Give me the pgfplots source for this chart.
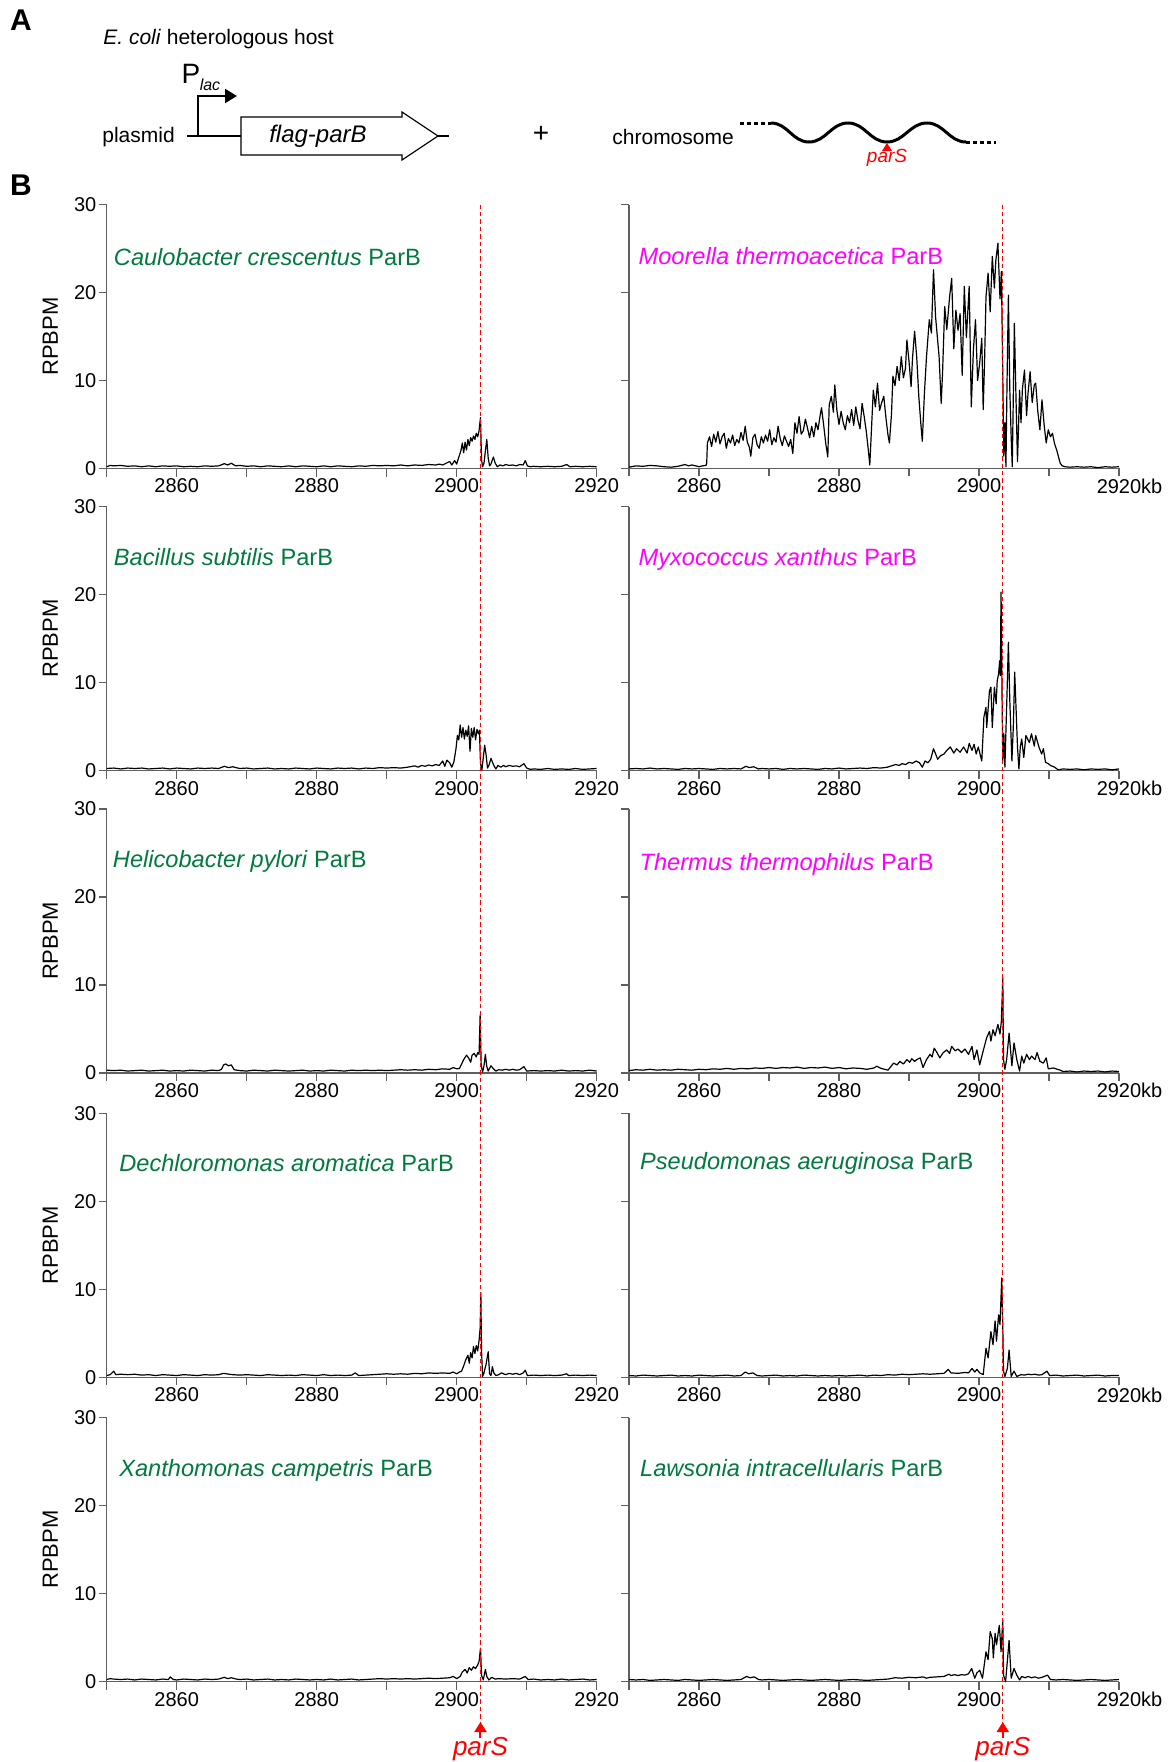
\documentclass[border=0pt]{standalone}
\usepackage{fontspec}
\setmainfont{Liberation Sans}
\usepackage{pgfplots}
\pgfplotsset{compat=1.18}
\usetikzlibrary{arrows.meta}

\definecolor{pgreen}{RGB}{0,122,61}
\definecolor{pmag}{RGB}{255,0,255}
\definecolor{axgray}{RGB}{95,95,95}

\pgfplotsset{
  trace/.style={black, line width=0.6pt, line join=round, mark=none},
  panel/.style={
    anchor=north west, scale only axis, width=245pt, height=132pt,
    xmin=2850, xmax=2920, ymin=0, ymax=30,
    axis lines*=left,
    axis line style={axgray, line width=0.7pt},
    tick style={axgray, line width=0.7pt},
    tick align=outside, major tick length=4pt,
    xtick={2850,2860,...,2920},
    ytick={0,10,20,30},
    ticklabel style={font=\fontsize{10}{12}\selectfont, inner sep=1pt},
    clip=false,
  },
  leftpanel/.style={panel,
    xticklabels={{},2860,{},2880,{},2900,{},2920},
    yticklabels={0,10,20,30},
    ylabel={RPBPM},
    ylabel style={font=\fontsize{11}{13}\selectfont, at={(axis description cs:-0.115,0.5)}, anchor=center}},
  rightpanel/.style={panel,
    xticklabels={{},2860,{},2880,{},2900,{},2920\rlap{kb}},
    yticklabels={}},
}
% panel title: colour, x, y, text
\newcommand{\ptitle}[4]{\node[anchor=west, inner sep=0pt, text=#1, font=\fontsize{11.8}{14}\selectfont] at (axis description cs:#2,#3) {#4};}

\begin{document}
\begin{tikzpicture}
\path[use as bounding box] (0pt,0pt) rectangle (587pt,-881pt);

% ---------- panel A (pixel units) ----------
\begin{scope}[x=0.5pt,y=-0.5pt]
\node[font=\bfseries\fontsize{15}{18}\selectfont] at (21,20) {A};
\node[font=\bfseries\fontsize{15}{18}\selectfont] at (21,185) {B};
\node[anchor=west, inner sep=0pt, font=\fontsize{10.5}{12}\selectfont] at (103,39) {\textit{E. coli} heterologous host};
\node[anchor=west, inner sep=0pt, font=\fontsize{10.5}{12}\selectfont] at (102,137) {plasmid};
\draw[line width=1.3pt] (187,136) -- (241,136);
\draw[line width=1.1pt, -{Triangle[width=7pt,length=6pt]}] (198,136) -- (198,96) -- (237,96);
\node[font=\fontsize{14}{16}\selectfont] at (191,74) {P};
\node[font=\itshape\fontsize{8}{9}\selectfont] at (210,85) {lac};
\draw[line width=0.6pt, fill=white] (241,117) -- (402,117) -- (402,112) -- (438,136) -- (402,160) -- (402,155) -- (241,155) -- cycle;
\draw[line width=1.3pt] (438,136) -- (449,136);
\node[font=\itshape\fontsize{12}{14}\selectfont] at (318,136) {flag-parB};
\node[font=\fontsize{14}{16}\selectfont] at (541,134) {+};
\node[anchor=west, inner sep=0pt, font=\fontsize{10.5}{12}\selectfont] at (612,137) {chromosome};
\draw[line width=1.5pt, dash pattern=on 2pt off 1.5pt] (740,123) -- (771,123);
\draw[line width=1.5pt] (771,123) to[out=0,in=180] (809,142) to[out=0,in=180] (848,123)
  to[out=0,in=180] (887,142) to[out=0,in=180] (927,123) to[out=0,in=180] (966,142);
\draw[line width=1.5pt, dash pattern=on 2pt off 1.5pt] (966,142) -- (996,142);
\fill[red] (887,143) -- (882,151) -- (892,151) -- cycle;
\node[text=red, font=\itshape\fontsize{9.5}{11}\selectfont] at (887,158) {parS};
\end{scope}

% ---------- row 1 ----------
\begin{axis}[leftpanel, at={(53.35pt,-102.25pt)}]
\addplot[trace] coordinates {(2850,0.2)(2850.5,0.35)(2851,0.3)(2852,0.35)(2853,0.25)(2854,0.3)(2855,0.2)(2856,0.3)(2857,0.2)(2858,0.3)(2859,0.25)(2860,0.3)(2861,0.2)(2862,0.25)(2863,0.2)(2864,0.3)(2865,0.25)(2866,0.3)(2866.8,0.55)(2867.3,0.4)(2867.8,0.6)(2868.4,0.3)(2869,0.35)(2870,0.25)(2871,0.3)(2872,0.2)(2873,0.3)(2874,0.25)(2875,0.2)(2876,0.3)(2877,0.2)(2878,0.3)(2879,0.25)(2880,0.2)(2881,0.3)(2882,0.2)(2883,0.3)(2884,0.25)(2885,0.2)(2886,0.3)(2887,0.25)(2888,0.35)(2889,0.3)(2890,0.35)(2891,0.3)(2892,0.4)(2893,0.3)(2894,0.4)(2895,0.35)(2896,0.45)(2897,0.4)(2897.5,0.5)(2898,0.4)(2898.5,0.6)(2899,0.8)(2899.3,0.4)(2899.7,0.9)(2900,0.5)(2900.3,1.3)(2900.6,2.0)(2900.8,2.9)(2901,1.8)(2901.2,3.0)(2901.4,2.1)(2901.6,3.3)(2901.8,2.6)(2902,3.5)(2902.2,3.1)(2902.4,3.7)(2902.6,3.3)(2902.8,4.0)(2903,3.6)(2903.2,4.3)(2903.4,5.8)(2903.55,1.0)(2903.7,0.2)(2903.9,0.6)(2904.1,2.0)(2904.3,3.3)(2904.5,1.2)(2904.7,0.3)(2904.9,0.5)(2905.1,1.0)(2905.25,1.3)(2905.5,0.6)(2905.8,0.2)(2906.2,0.4)(2906.6,0.3)(2907,0.45)(2907.5,0.35)(2908,0.4)(2908.5,0.3)(2909,0.45)(2909.5,0.4)(2909.8,0.9)(2910.1,0.3)(2910.5,0.2)(2911,0.25)(2912,0.2)(2913,0.25)(2914,0.2)(2915,0.25)(2915.7,0.45)(2916.2,0.2)(2917,0.25)(2918,0.2)(2919,0.25)(2920,0.2)};
\ptitle{pgreen}{0.014}{0.80}{\textit{Caulobacter crescentus} ParB}
\coordinate (tL) at (axis cs:2903.4,30);
\end{axis}

\begin{axis}[rightpanel, at={(314.5pt,-102.25pt)}]
\addplot[trace] coordinates {(2850,0.15)(2851,0.3)(2852,0.25)(2853,0.35)(2854,0.3)(2855,0.2)(2856,0.15)(2857,0.25)(2858,0.45)(2858.5,0.3)(2859,0.4)(2860,0.2)(2860.5,0.3)(2861,0.35)(2861.1,0.6)
(2861.2,2.9)(2861.5,3.6)(2861.8,2.5)(2862.1,3.9)(2862.4,3.0)(2862.7,4.2)(2863.0,2.8)(2863.3,3.6)(2863.6,4.0)(2863.9,2.3)(2864.2,3.4)(2864.5,2.9)(2864.8,3.8)(2865.1,2.6)(2865.4,3.3)(2865.7,2.9)(2866.0,4.1)(2866.3,3.2)(2866.6,4.8)(2866.9,3.0)(2867.2,2.4)(2867.4,1.4)(2867.7,3.5)(2868.0,3.9)(2868.3,2.7)(2868.6,2.3)(2868.9,3.6)(2869.2,2.9)(2869.5,3.8)(2869.8,3.1)(2870.1,4.4)(2870.4,2.7)(2870.7,3.5)(2871.0,3.0)(2871.3,4.8)(2871.6,3.4)(2871.9,2.6)(2872.2,3.7)(2872.5,3.1)(2872.8,2.5)(2873.1,3.3)(2873.4,1.7)(2873.7,5.2)(2874.0,4.0)(2874.3,5.9)(2874.6,3.9)(2874.9,4.3)(2875.2,5.6)(2875.5,4.6)(2875.8,3.5)(2876.1,4.8)(2876.4,3.6)(2876.7,5.2)(2877.0,4.4)(2877.3,6.0)(2877.5,6.9)(2877.8,5.0)(2878.1,2.9)(2878.4,1.3)(2878.6,7.2)(2878.9,8.2)(2879.2,6.4)(2879.4,9.5)(2879.7,6.6)(2880.0,5.0)(2880.3,6.5)(2880.6,5.2)(2880.9,4.4)(2881.2,6.0)(2881.5,5.2)(2881.8,6.7)(2882.1,4.9)(2882.4,7.0)(2882.7,5.5)(2883.0,4.5)(2883.3,7.4)(2883.6,5.9)(2883.9,4.2)(2884.2,2.0)(2884.4,0.4)(2884.6,3.8)(2884.9,8.9)(2885.2,7.0)(2885.5,9.7)(2885.8,6.6)(2886.1,7.5)(2886.4,8.2)(2886.7,5.8)(2887.0,3.8)(2887.2,2.9)(2887.5,6.2)(2887.7,10.5)(2888.0,9.4)(2888.3,11.6)(2888.6,10.0)(2888.9,12.7)(2889.2,10.3)(2889.5,11.4)(2889.7,14.6)(2890.0,12.2)(2890.3,9.3)(2890.5,12.5)(2890.8,15.6)(2891.1,12.7)(2891.4,8.2)(2891.7,5.0)(2891.9,3.1)(2892.2,8.5)(2892.5,12.7)(2892.9,16.9)(2893.2,15.4)(2893.5,22.6)(2893.8,17.2)(2894.1,14.5)(2894.3,12.7)(2894.6,7.4)(2894.8,11.0)(2895.1,18.4)(2895.4,15.8)(2895.8,19.5)(2896.1,21.6)(2896.4,13.6)(2896.7,18.0)(2897.0,15.7)(2897.3,17.6)(2897.6,10.6)(2897.9,20.7)(2898.2,14.9)(2898.6,20.7)(2898.9,7.0)(2899.2,13.5)(2899.5,16.9)(2899.8,10.0)(2900.1,12.0)(2900.4,14.8)(2900.6,6.7)(2900.8,12.3)(2901.0,19.5)(2901.3,22.2)(2901.6,17.8)(2901.9,24.1)(2902.2,20.5)(2902.4,23.6)(2902.7,25.6)(2903.0,19.3)(2903.2,22.4)(2903.4,10.5)(2903.55,1.4)(2903.7,5.2)(2903.85,0.2)(2904.0,9.5)(2904.2,19.7)(2904.4,9.0)(2904.6,3.5)(2904.75,0.2)(2904.9,8.0)(2905.05,16.5)(2905.3,7.5)(2905.5,0.8)(2905.8,8.9)(2906.0,5.2)(2906.2,9.0)(2906.5,11.2)(2906.8,6.0)(2907.0,8.5)(2907.3,11.0)(2907.6,7.5)(2907.9,9.5)(2908.1,9.7)(2908.4,6.5)(2908.7,4.4)(2909.0,7.8)(2909.3,5.0)(2909.6,2.9)(2909.9,4.4)(2910.2,3.6)(2910.5,4.0)(2910.8,2.8)(2911.1,2.1)(2911.4,1.2)(2911.6,0.6)(2911.9,0.3)(2912.3,0.2)(2913,0.15)(2914,0.2)(2915,0.15)(2916,0.2)(2917,0.1)(2918,0.2)(2919,0.15)(2920,0.2)};
\ptitle{pmag}{0.019}{0.805}{\textit{Moorella thermoacetica} ParB}
\coordinate (tR) at (axis cs:2903.4,30);
\end{axis}

% ---------- row 2 ----------
\begin{axis}[leftpanel, at={(53.35pt,-253.35pt)}]
\addplot[trace] coordinates {(2850,0.25)(2851,0.3)(2852,0.2)(2853,0.3)(2854,0.25)(2855,0.3)(2856,0.2)(2857,0.25)(2858,0.3)(2859,0.2)(2860,0.3)(2861,0.25)(2862,0.2)(2863,0.3)(2864,0.25)(2865,0.3)(2866,0.25)(2866.8,0.5)(2867.4,0.35)(2868,0.45)(2869,0.25)(2870,0.3)(2871,0.2)(2872,0.25)(2873,0.3)(2874,0.2)(2875,0.25)(2876,0.2)(2877,0.3)(2878,0.25)(2879,0.2)(2880,0.3)(2881,0.25)(2882,0.2)(2883,0.3)(2884,0.25)(2885,0.3)(2886,0.2)(2887,0.3)(2888,0.25)(2889,0.35)(2890,0.3)(2891,0.35)(2892,0.3)(2893,0.4)(2894,0.55)(2894.5,0.4)(2895,0.6)(2895.5,0.5)(2896,0.65)(2896.5,0.55)(2897,0.7)(2897.5,0.6)(2898,1.1)(2898.3,0.5)(2898.6,1.2)(2899,0.9)(2899.3,0.4)(2899.6,1.0)(2899.9,2.5)(2900.1,4.0)(2900.3,3.5)(2900.5,5.2)(2900.7,3.8)(2900.9,4.9)(2901.1,3.6)(2901.3,4.6)(2901.5,3.9)(2901.7,5.1)(2901.9,2.2)(2902.1,4.8)(2902.3,3.8)(2902.5,4.9)(2902.7,3.5)(2902.9,4.7)(2903.1,4.2)(2903.25,4.6)(2903.4,0.8)(2903.6,0.1)(2903.8,1.5)(2904.0,2.9)(2904.2,1.8)(2904.4,0.3)(2904.6,0.6)(2904.9,1.4)(2905.1,1.0)(2905.3,0.6)(2905.6,0.2)(2905.9,0.6)(2906.3,0.4)(2906.7,0.6)(2907,0.45)(2907.5,0.6)(2908,0.5)(2908.5,0.55)(2909,0.45)(2909.6,0.8)(2910,0.3)(2910.5,0.15)(2911,0.2)(2912,0.15)(2913,0.25)(2914,0.15)(2915,0.2)(2916,0.15)(2917,0.25)(2918,0.15)(2919,0.2)(2920,0.25)};
\ptitle{pgreen}{0.014}{0.81}{\textit{Bacillus subtilis} ParB}
\end{axis}

\begin{axis}[rightpanel, at={(314.5pt,-253.35pt)}]
\addplot[trace] coordinates {(2850,0.2)(2851,0.25)(2852,0.2)(2853,0.3)(2854,0.2)(2855,0.25)(2856,0.2)(2857,0.15)(2858,0.25)(2859,0.2)(2860,0.25)(2861,0.2)(2862,0.15)(2863,0.25)(2864,0.2)(2865,0.25)(2866,0.2)(2866.7,0.5)(2867.2,0.35)(2867.8,0.45)(2868.5,0.2)(2869,0.25)(2870,0.2)(2871,0.25)(2872,0.15)(2873,0.25)(2874,0.2)(2875,0.25)(2876,0.2)(2877,0.15)(2878,0.25)(2879,0.2)(2880,0.3)(2881,0.2)(2882,0.25)(2883,0.3)(2884,0.25)(2885,0.35)(2886,0.3)(2886.9,0.4)(2887.5,0.55)(2888.1,0.7)(2888.6,0.6)(2889,0.8)(2889.5,0.7)(2890,0.95)(2890.5,0.85)(2891,1.1)(2891.5,0.9)(2891.9,0.4)(2892.3,1.1)(2892.7,0.9)(2893.1,1.3)(2893.5,2.5)(2893.8,1.9)(2894.1,1.3)(2894.5,1.7)(2895,1.9)(2895.4,2.3)(2895.9,2.7)(2896.4,2.0)(2896.8,2.5)(2897.3,2.1)(2897.8,2.7)(2898.3,2.0)(2898.6,3.1)(2899,2.3)(2899.3,3.0)(2899.6,1.9)(2899.9,2.7)(2900.4,1.1)(2900.7,6.1)(2901,7.2)(2901.1,4.9)(2901.5,9.1)(2901.7,9.5)(2901.9,4.9)(2902.2,9.5)(2902.45,7.6)(2902.6,10.2)(2902.8,11.0)(2902.95,12.5)(2903.05,10.8)(2903.15,20.3)(2903.3,8.0)(2903.4,1.1)(2903.55,4.2)(2903.7,0.4)(2904.0,8.7)(2904.2,14.6)(2904.4,8.0)(2904.7,1.1)(2904.9,4.9)(2905.1,11.2)(2905.25,8.0)(2905.5,2.7)(2905.7,0.2)(2905.9,2.7)(2906.1,3.6)(2906.4,1.5)(2906.7,4.0)(2907.2,3.2)(2907.5,4.2)(2907.9,2.8)(2908.1,4.0)(2908.6,2.6)(2908.95,1.9)(2909.2,2.5)(2909.5,0.95)(2909.9,0.8)(2910.2,0.6)(2910.8,0.4)(2911.3,0.1)(2912,0.2)(2913,0.15)(2914,0.2)(2915,0.1)(2916,0.2)(2917,0.15)(2918,0.2)(2919,0.1)(2920,0.2)};
\ptitle{pmag}{0.019}{0.80}{\textit{Myxococcus xanthus} ParB}
\end{axis}

% ---------- row 3 ----------
\begin{axis}[leftpanel, at={(53.35pt,-404.4pt)}]
\addplot[trace] coordinates {(2850,0.3)(2851,0.25)(2852,0.3)(2853,0.2)(2854,0.25)(2855,0.3)(2856,0.2)(2857,0.25)(2858,0.3)(2859,0.2)(2860,0.25)(2861,0.2)(2862,0.3)(2863,0.25)(2864,0.2)(2865,0.3)(2866,0.25)(2866.4,0.4)(2866.7,0.9)(2867,1.0)(2867.4,0.8)(2867.8,0.9)(2868.2,0.35)(2869,0.25)(2870,0.2)(2871,0.3)(2872,0.25)(2873,0.2)(2874,0.3)(2875,0.25)(2876,0.2)(2877,0.25)(2878,0.3)(2879,0.2)(2880,0.25)(2881,0.2)(2882,0.3)(2883,0.25)(2884,0.2)(2885,0.3)(2886,0.25)(2887,0.3)(2888,0.25)(2889,0.3)(2890,0.25)(2891,0.3)(2892,0.35)(2893,0.3)(2894,0.35)(2895,0.3)(2896,0.4)(2897,0.35)(2898,0.45)(2899,0.4)(2899.5,0.6)(2900,0.45)(2900.4,0.5)(2900.7,1.0)(2901,1.5)(2901.4,2.0)(2901.7,1.7)(2902,1.2)(2902.2,2.0)(2902.5,2.2)(2902.8,1.8)(2903,2.3)(2903.2,2.1)(2903.35,6.6)(2903.5,0.8)(2903.7,0.1)(2903.9,0.8)(2904.1,2.1)(2904.3,0.7)(2904.5,0.2)(2904.9,0.8)(2905.2,0.5)(2905.6,0.2)(2906,0.35)(2906.5,0.3)(2907,0.4)(2907.5,0.3)(2908,0.4)(2908.5,0.3)(2909,0.35)(2909.6,0.7)(2910,0.2)(2911,0.25)(2912,0.2)(2913,0.25)(2914,0.2)(2915,0.3)(2916,0.2)(2917,0.25)(2918,0.2)(2919,0.3)(2920,0.2)};
\ptitle{pgreen}{0.012}{0.80}{\textit{Helicobacter pylori} ParB}
\end{axis}

\begin{axis}[rightpanel, at={(314.5pt,-404.4pt)}]
\addplot[trace] coordinates {(2850,0.25)(2851,0.35)(2852,0.3)(2853,0.4)(2854,0.3)(2855,0.35)(2856,0.3)(2857,0.4)(2858,0.35)(2859,0.3)(2860,0.4)(2861,0.35)(2862,0.45)(2863,0.4)(2864,0.5)(2865,0.4)(2866,0.5)(2867,0.45)(2868,0.55)(2869,0.5)(2870,0.6)(2871,0.5)(2872,0.6)(2873,0.55)(2874,0.65)(2875,0.5)(2876,0.6)(2877,0.55)(2878,0.65)(2879,0.5)(2880,0.6)(2881,0.45)(2882,0.55)(2883,0.5)(2884,0.4)(2885,0.55)(2885.4,0.75)(2886,0.5)(2887,0.3)(2887.8,1.1)(2888.3,0.9)(2888.7,1.3)(2889.2,1.0)(2889.7,1.5)(2890.1,1.2)(2890.4,1.6)(2890.8,1.3)(2891.1,1.5)(2891.6,1.7)(2892,0.6)(2892.5,1.5)(2893,2.1)(2893.3,1.8)(2893.6,2.8)(2894,2.3)(2894.4,1.7)(2894.9,2.3)(2895.4,2.6)(2895.8,2.2)(2896.1,3.0)(2896.6,2.5)(2897,2.7)(2897.5,2.3)(2898,2.7)(2898.5,2.1)(2899,3.0)(2899.3,1.5)(2899.7,2.6)(2900.1,0.9)(2900.6,2.5)(2901.1,4.0)(2901.5,4.7)(2901.7,3.6)(2902,4.9)(2902.3,4.2)(2902.7,5.5)(2903,4.4)(2903.2,5.9)(2903.4,10.8)(2903.5,1.5)(2903.7,0.4)(2903.95,1.5)(2904.3,4.5)(2904.7,0.8)(2905,3.4)(2905.4,1.5)(2905.8,0.2)(2906.1,1.9)(2906.4,1.1)(2906.8,2.1)(2907.2,1.5)(2907.5,1.9)(2908,1.5)(2908.3,2.3)(2908.7,1.3)(2909.2,1.1)(2909.6,1.7)(2909.9,0.45)(2910.6,0.55)(2911.6,0.3)(2912,0.15)(2913,0.2)(2914,0.1)(2915,0.2)(2916,0.15)(2917,0.2)(2918,0.1)(2919,0.2)(2920,0.15)};
\ptitle{pmag}{0.021}{0.79}{\textit{Thermus thermophilus} ParB}
\end{axis}

% ---------- row 4 ----------
\begin{axis}[leftpanel, at={(53.35pt,-556.65pt)}]
\addplot[trace] coordinates {(2850,0.2)(2850.5,0.3)(2851,0.7)(2851.3,0.3)(2852,0.35)(2853,0.3)(2854,0.35)(2855,0.25)(2856,0.3)(2857,0.2)(2858,0.3)(2859,0.25)(2860,0.2)(2861,0.3)(2862,0.25)(2863,0.2)(2864,0.3)(2865,0.25)(2866,0.3)(2866.7,0.45)(2867.5,0.35)(2868,0.3)(2869,0.25)(2870,0.3)(2871,0.25)(2872,0.2)(2873,0.3)(2874,0.25)(2875,0.2)(2876,0.25)(2877,0.2)(2878,0.3)(2879,0.25)(2880,0.2)(2881,0.3)(2882,0.2)(2883,0.25)(2884,0.2)(2885,0.25)(2885.5,0.5)(2886,0.2)(2887,0.25)(2888,0.3)(2889,0.35)(2890,0.4)(2891,0.35)(2892,0.4)(2893,0.35)(2894,0.45)(2895,0.4)(2896,0.5)(2897,0.45)(2898,0.5)(2899,0.45)(2899.5,0.6)(2900,0.4)(2900.4,0.6)(2900.7,0.7)(2901,1.3)(2901.3,2.0)(2901.6,2.5)(2901.8,1.6)(2902,2.8)(2902.2,2.2)(2902.4,3.5)(2902.6,2.7)(2902.8,3.6)(2903,3.0)(2903.2,4.2)(2903.35,5.6)(2903.45,9.6)(2903.55,3.0)(2903.7,0.1)(2903.9,0.5)(2904.2,1.5)(2904.5,2.9)(2904.7,0.4)(2904.9,0.2)(2905.1,1.2)(2905.3,0.5)(2905.6,0.2)(2906,0.3)(2906.4,0.5)(2907,0.3)(2907.5,0.45)(2908,0.35)(2908.5,0.45)(2909,0.3)(2909.5,0.5)(2909.8,0.8)(2910.1,0.2)(2911,0.25)(2912,0.2)(2913,0.25)(2914,0.2)(2915,0.25)(2915.7,0.4)(2916,0.2)(2917,0.25)(2918,0.2)(2919,0.25)(2920,0.2)};
\ptitle{pgreen}{0.025}{0.81}{\textit{Dechloromonas aromatica} ParB}
\end{axis}

\begin{axis}[rightpanel, at={(314.5pt,-556.65pt)}]
\addplot[trace] coordinates {(2850,0.2)(2851,0.15)(2852,0.25)(2853,0.2)(2854,0.15)(2855,0.2)(2856,0.25)(2857,0.15)(2858,0.2)(2859,0.15)(2860,0.25)(2861,0.2)(2862,0.15)(2863,0.2)(2864,0.25)(2865,0.15)(2866,0.2)(2866.6,0.6)(2867.1,0.4)(2867.7,0.5)(2868.3,0.2)(2869,0.15)(2870,0.2)(2871,0.25)(2872,0.15)(2873,0.2)(2874,0.15)(2875,0.25)(2876,0.2)(2877,0.15)(2878,0.2)(2879,0.15)(2880,0.2)(2881,0.15)(2882,0.2)(2883,0.25)(2884,0.15)(2885,0.25)(2886,0.2)(2887,0.3)(2888,0.25)(2889,0.35)(2890,0.3)(2891,0.35)(2892,0.4)(2893,0.35)(2894,0.4)(2895,0.45)(2895.6,0.9)(2896,0.5)(2897,0.45)(2898,0.55)(2898.5,0.5)(2899,1.0)(2899.4,0.6)(2899.7,0.9)(2900.1,0.5)(2900.6,0.3)(2901,3.3)(2901.3,2.2)(2901.7,5.2)(2902,3.7)(2902.3,6.4)(2902.5,4.1)(2902.8,7.1)(2903,6.0)(2903.25,11.3)(2903.4,5.6)(2903.5,0.7)(2903.7,0.1)(2904.05,1.0)(2904.3,3.1)(2904.6,0.1)(2905,0.7)(2905.4,0.1)(2906,0.3)(2906.5,0.25)(2907,0.35)(2907.5,0.3)(2908,0.35)(2908.5,0.25)(2909,0.3)(2909.7,0.7)(2910.1,0.2)(2911,0.25)(2912,0.15)(2913,0.2)(2914,0.25)(2915,0.15)(2916,0.2)(2917,0.25)(2918,0.15)(2919,0.2)(2920,0.2)};
\ptitle{pgreen}{0.022}{0.81}{\textit{Pseudomonas aeruginosa} ParB}
\end{axis}

% ---------- row 5 ----------
\begin{axis}[leftpanel, at={(53.35pt,-708.85pt)}]
\addplot[trace] coordinates {(2850,0.25)(2850.5,0.35)(2851,0.3)(2852,0.25)(2853,0.3)(2854,0.2)(2855,0.3)(2856,0.25)(2857,0.2)(2858,0.3)(2858.8,0.25)(2859.1,0.55)(2859.5,0.25)(2860,0.2)(2861,0.3)(2862,0.25)(2863,0.2)(2864,0.3)(2865,0.25)(2866,0.3)(2866.8,0.5)(2867.3,0.35)(2867.8,0.45)(2868.5,0.3)(2869,0.25)(2870,0.3)(2871,0.2)(2872,0.25)(2873,0.3)(2874,0.2)(2875,0.25)(2876,0.2)(2877,0.3)(2878,0.25)(2879,0.2)(2880,0.25)(2881,0.2)(2882,0.3)(2883,0.2)(2884,0.25)(2885,0.3)(2886,0.2)(2887,0.25)(2888,0.3)(2889,0.35)(2890,0.3)(2891,0.35)(2892,0.3)(2893,0.35)(2894,0.3)(2895,0.35)(2896,0.4)(2897,0.35)(2898,0.4)(2899,0.45)(2899.5,0.6)(2900,0.35)(2900.5,0.6)(2900.8,1.1)(2901.2,1.4)(2901.5,1.0)(2901.8,1.6)(2902.1,1.3)(2902.4,1.7)(2902.7,1.5)(2903,1.9)(2903.2,2.3)(2903.4,3.8)(2903.55,0.7)(2903.8,0.2)(2904.1,1.4)(2904.3,0.6)(2904.6,0.2)(2905,0.5)(2905.5,0.3)(2906,0.35)(2907,0.3)(2908,0.35)(2909,0.3)(2909.8,0.6)(2910.2,0.25)(2911,0.3)(2912,0.2)(2913,0.25)(2914,0.2)(2915,0.3)(2916,0.2)(2917,0.25)(2918,0.3)(2919,0.2)(2920,0.25)};
\ptitle{pgreen}{0.025}{0.80}{\textit{Xanthomonas campetris} ParB}
\end{axis}

\begin{axis}[rightpanel, at={(314.5pt,-708.85pt)}]
\addplot[trace] coordinates {(2850,0.25)(2851,0.2)(2852,0.25)(2853,0.15)(2854,0.2)(2855,0.25)(2856,0.2)(2857,0.15)(2858,0.25)(2859,0.2)(2860,0.15)(2861,0.2)(2862,0.25)(2863,0.2)(2864,0.15)(2865,0.2)(2866,0.25)(2866.8,0.6)(2867.3,0.45)(2867.9,0.55)(2868.5,0.25)(2869,0.2)(2870,0.25)(2871,0.2)(2872,0.15)(2873,0.2)(2874,0.25)(2875,0.2)(2876,0.15)(2877,0.2)(2878,0.25)(2879,0.2)(2880,0.15)(2881,0.2)(2882,0.25)(2883,0.2)(2884,0.15)(2885,0.2)(2886,0.25)(2887,0.3)(2888,0.45)(2889,0.4)(2890,0.5)(2891,0.45)(2892,0.55)(2892.5,0.4)(2893,0.5)(2894,0.55)(2895,0.6)(2895.7,0.85)(2896,0.7)(2896.5,0.8)(2897,0.7)(2897.5,0.8)(2898,0.75)(2898.5,0.9)(2898.95,1.5)(2899.4,0.4)(2899.7,1.0)(2900.1,1.3)(2900.5,0.4)(2901,3.4)(2901.3,2.5)(2901.6,5.7)(2901.9,4.9)(2902.05,2.7)(2902.3,5.5)(2902.5,4.2)(2902.9,6.4)(2903,5.3)(2903.15,3.4)(2903.4,7.0)(2903.5,0.75)(2903.8,0.0)(2904.3,4.7)(2904.6,0.4)(2905,1.5)(2905.4,0.75)(2905.8,0.2)(2906.1,0.6)(2906.6,0.45)(2907,0.6)(2907.5,0.45)(2908,0.55)(2908.5,0.4)(2909,0.5)(2909.8,0.75)(2910.2,0.25)(2911,0.2)(2912,0.25)(2913,0.2)(2914,0.15)(2915,0.2)(2916,0.25)(2917,0.2)(2918,0.15)(2919,0.2)(2920,0.25)};
\ptitle{pgreen}{0.022}{0.81}{\textit{Lawsonia intracellularis} ParB}
\end{axis}

% ---------- parS guide lines ----------
\coordinate (yb) at (0pt,-861pt);
\coordinate (ya) at (0pt,-869pt);
\coordinate (yt) at (0pt,-877.5pt);
\foreach \c in {tL,tR}{
  \draw[red, line width=0.6pt, dash pattern=on 2.2pt off 1.5pt] (\c) -- (\c |- yb);
  \draw[red, line width=1pt, -{Triangle[width=6pt,length=5pt]}] (\c |- ya) -- (\c |- yb);
  \node[red, anchor=base, inner sep=0pt, font=\itshape\fontsize{13}{15}\selectfont] at (\c |- yt) {parS};
}
\end{tikzpicture}
\end{document}
